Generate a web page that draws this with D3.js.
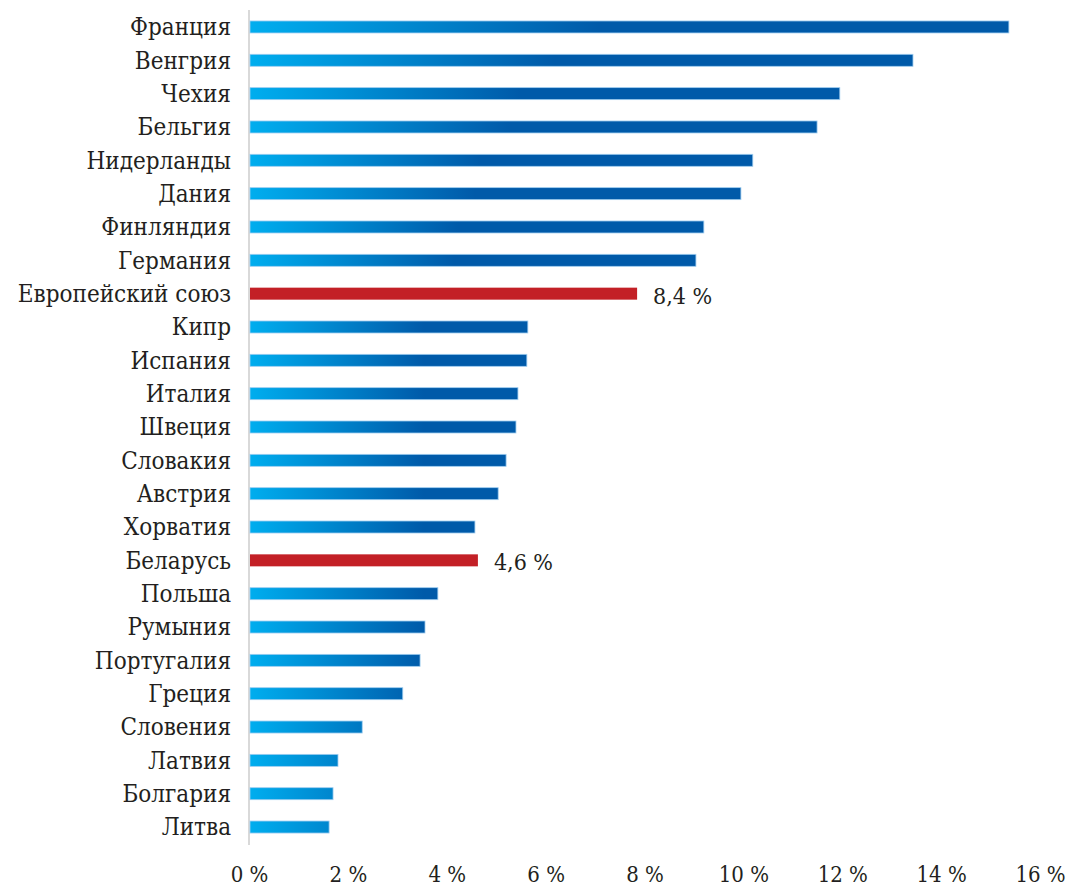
<!DOCTYPE html>
<html><head><meta charset="utf-8">
<script src="https://cdn.jsdelivr.net/npm/d3@7"></script>
<style>body{margin:0;background:#fff}svg{display:block}</style>
</head><body><div id="chart"></div>
<script>
const categories = ["Франция","Венгрия","Чехия","Бельгия","Нидерланды","Дания","Финляндия","Германия","Европейский союз","Кипр","Испания","Италия","Швеция","Словакия","Австрия","Хорватия","Беларусь","Польша","Румыния","Португалия","Греция","Словения","Латвия","Болгария","Литва"];
const values = [15.37,13.43,11.95,11.49,10.19,9.95,9.20,9.04,7.85,5.64,5.62,5.44,5.40,5.20,5.04,4.57,4.63,3.82,3.56,3.46,3.11,2.29,1.80,1.70,1.62];
const highlighted = ["Европейский союз","Беларусь"];
const valueLabels = {"Европейский союз":"8,4 %","Беларусь":"4,6 %"};
const tickValues = [0,2,4,6,8,10,12,14,16];

const FONT = "'DejaVu Serif Condensed','DejaVu Serif'";
const FS = 24;
const W = 1067, H = 888;
const svg = d3.select("#chart").append("svg").attr("width",W).attr("height",H);
const x = d3.scaleLinear().domain([0,16]).range([249, 249 + 16*49.44]);
const y = d3.scaleBand().domain(categories).range([10.3, 843.7]).paddingInner(0.64).paddingOuter(0.32);

const defs = svg.append("defs");
const data = categories.map((c,i)=>({c, v:values[i], i}));
data.forEach(d=>{
  if (highlighted.includes(d.c)) return;
  const x0 = x(0), w = x(d.v)-x(0);
  const L = Math.max(175, 0.46*w);
  const g = defs.append("linearGradient").attr("id","g"+d.i)
    .attr("gradientUnits","userSpaceOnUse")
    .attr("x1",x0).attr("x2",x0+L).attr("y1",0).attr("y2",0);
  g.append("stop").attr("offset",0).attr("stop-color","#00aeef");
  g.append("stop").attr("offset",0.5).attr("stop-color","#0084cc");
  g.append("stop").attr("offset",1).attr("stop-color","#005aa9");
});

svg.append("line").attr("x1",x(0)).attr("x2",x(0)).attr("y1",10).attr("y2",845)
  .attr("stroke","#d9d9d9").attr("stroke-width",2);

svg.append("g").selectAll("rect").data(data).join("rect")
  .attr("x", x(0)+1)
  .attr("y", d=>y(d.c))
  .attr("width", d=>x(d.v)-x(0)-1)
  .attr("height", y.bandwidth())
  .attr("fill", d=> highlighted.includes(d.c) ? "#c32026" : `url(#g${d.i})`)
  .attr("stroke", d=> highlighted.includes(d.c) ? "none" : "#9fcdf0")
  .attr("stroke-width", 0.8);

svg.append("g").selectAll("text").data(data).join("text")
  .attr("x", 231)
  .attr("y", d=>y(d.c)+y.bandwidth()/2)
  .attr("dy","0.35em")
  .attr("text-anchor","end")
  .style("font-family",FONT)
  .style("fill","#231f20")
  .attr("font-size",FS)
  .text(d=>d.c);

svg.append("g").selectAll("text").data(data.filter(d=>valueLabels[d.c])).join("text")
  .attr("x", d=>x(d.v)+16)
  .attr("y", d=>y(d.c)+y.bandwidth()/2+2)
  .attr("dy","0.35em")
  .style("font-family",FONT)
  .style("fill","#231f20")
  .attr("font-size",23)
  .text(d=>valueLabels[d.c]);

const ax = svg.append("g").attr("transform",`translate(0,${H-44})`)
  .call(d3.axisBottom(x).tickValues(tickValues).tickSize(0).tickPadding(0).tickFormat(d=>d+" %"));
ax.attr("font-family",null);
ax.select(".domain").remove();
ax.selectAll("text").attr("font-size",22).style("font-family",FONT).style("fill","#231f20").attr("y",30).attr("dy","0.35em");
</script></body></html>
